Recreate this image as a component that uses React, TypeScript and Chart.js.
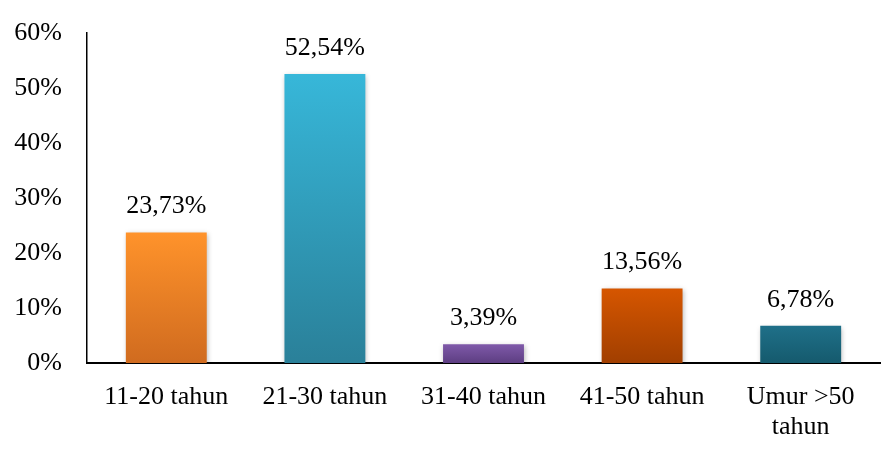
import React, { useEffect, useRef } from "react";
import { Chart, registerables } from "chart.js";

Chart.register(...registerables);

const categories: (string | string[])[] = [
  "11-20 tahun",
  "21-30 tahun",
  "31-40 tahun",
  "41-50 tahun",
  ["Umur >50", "tahun"],
];
const values = [23.73, 52.54, 3.39, 13.56, 6.78];
const topColors = ["#FF932B", "#37B7D9", "#7F59A9", "#D65600", "#1F7089"];
const bottomColors = ["#D06B1F", "#2A8099", "#5D3E82", "#A13F00", "#155A6D"];
const yTicks = [0, 10, 20, 30, 40, 50, 60];

const FONT = "'Liberation Serif', 'Times New Roman', serif";
const FONT_SIZE = 26;

const formatPct = (v: number) => v.toFixed(2).replace(".", ",") + "%";

const shadowPlugin = {
  id: "barShadow",
  beforeDatasetsDraw(chart: any) {
    const ctx = chart.ctx;
    ctx.save();
    ctx.shadowColor = "rgba(0,0,0,0.28)";
    ctx.shadowBlur = 5;
    ctx.shadowOffsetX = 1;
    ctx.shadowOffsetY = 2;
  },
  afterDatasetsDraw(chart: any) {
    chart.ctx.restore();
  },
};

const valueLabelPlugin = {
  id: "valueLabels",
  afterDatasetsDraw(chart: any) {
    const ctx = chart.ctx;
    const meta = chart.getDatasetMeta(0);
    ctx.save();
    ctx.font = `${FONT_SIZE}px ${FONT}`;
    ctx.fillStyle = "#000";
    ctx.textAlign = "center";
    ctx.textBaseline = "middle";
    meta.data.forEach((bar: any, i: number) => {
      ctx.fillText(formatPct(values[i]), bar.x, bar.y - 26);
    });
    ctx.restore();
  },
};

export default function App() {
  const canvasRef = useRef<HTMLCanvasElement | null>(null);

  useEffect(() => {
    if (!canvasRef.current) return;
    const chart = new Chart(canvasRef.current, {
      type: "bar",
      data: {
        labels: categories,
        datasets: [
          {
            data: values,
            barPercentage: 0.51,
            categoryPercentage: 1,
            borderWidth: 0,
            backgroundColor: (context: any) => {
              const c = context.chart;
              const i = context.dataIndex;
              const yScale = c.scales?.y;
              if (!c.chartArea || !yScale || i === undefined) return topColors[i ?? 0];
              const top = yScale.getPixelForValue(values[i]);
              const bottom = yScale.getPixelForValue(0);
              const g = c.ctx.createLinearGradient(0, top, 0, bottom);
              g.addColorStop(0, topColors[i]);
              g.addColorStop(1, bottomColors[i]);
              return g;
            },
          },
        ],
      },
      options: {
        animation: false,
        responsive: false,
        maintainAspectRatio: false,
        layout: { padding: { top: 33, right: 10, left: 0, bottom: 0 } },
        plugins: {
          legend: { display: false },
          tooltip: { enabled: false },
        },
        scales: {
          x: {
            grid: { display: false, drawTicks: false },
            border: { display: true, color: "#000", width: 2 },
            ticks: {
              color: "#000",
              font: { family: FONT, size: FONT_SIZE, lineHeight: 1.15 },
              padding: 19,
              maxRotation: 0,
              autoSkip: false,
            },
            afterFit(scale: any) {
              scale.height = 87;
              scale.paddingLeft = 0;
              scale.paddingRight = 0;
            },
          },
          y: {
            min: 0,
            max: 60,
            afterBuildTicks(scale: any) {
              scale.ticks = yTicks.map((v) => ({ value: v }));
            },
            grid: { display: false, drawTicks: false },
            border: { display: true, color: "#000", width: 1.5 },
            ticks: {
              color: "#000",
              font: { family: FONT, size: FONT_SIZE },
              padding: 25,
              callback: (v: any) => `${v}%`,
            },
            afterFit(scale: any) {
              scale.width = 87;
              scale.paddingTop = 0;
              scale.paddingBottom = 0;
            },
          },
        },
      },
      plugins: [shadowPlugin, valueLabelPlugin],
    });
    return () => chart.destroy();
  }, []);

  return (
    <div style={{ position: "fixed", left: 0, top: 0, width: 890, height: 450, background: "#fff" }}>
      <canvas ref={canvasRef} width={890} height={450} style={{ width: 890, height: 450 }} />
    </div>
  );
}
